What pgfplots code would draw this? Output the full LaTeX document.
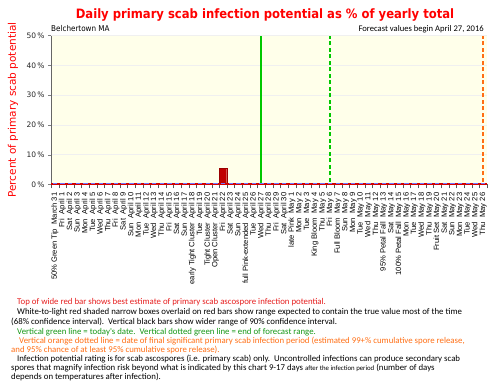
\documentclass[border=0pt]{standalone}
\usepackage{pgfplots}
\usepackage{pgfplotstable}
\pgfplotsset{compat=1.18}
\usepackage{fontspec}
\setmainfont{DejaVu Sans}
\newfontfamily\carl{Carlito}
\newfontfamily\ars{Liberation Sans}
\newfontfamily\dvc{DejaVu Sans Condensed}
\definecolor{bg}{RGB}{255,255,234}
\definecolor{vgreen}{RGB}{0,200,0}
\definecolor{vorange}{RGB}{255,110,20}
\definecolor{barred}{RGB}{192,0,0}
\definecolor{zred}{RGB}{210,0,0}
\definecolor{ngreen}{RGB}{20,150,20}
\definecolor{nred}{RGB}{230,30,30}
\newcommand\lb[2]{#1\hspace{0.6em}#2}
\pgfplotstableread{
x y b
0 0 0.35
1 0 0.35
2 0 0.35
3 0 0.35
4 0 0.35
5 0 0.35
6 0 0.35
7 0 0.35
8 0 0.35
9 0 0.35
10 0 0.35
11 0 0.35
12 0 0.35
13 0 0.35
14 0 0.35
15 0 0.35
16 0 0.35
17 0 0.35
18 0 0.35
19 0 0.35
20 0 0.35
21 0 0.35
22 5.4 0.35
23 0 0.35
24 0 0.35
25 0 0.35
26 0 0.35
27 0 0.35
28 0 0.35
29 0 0.35
30 0 0.35
31 0 0.35
32 0 0.35
33 0 0.35
34 0 0.35
35 0 0.35
36 0 0.35
37 0 0.35
38 0 0.35
39 0 0.35
40 0 0.35
41 0 0.35
42 0 0.35
43 0 0.35
44 0 0.35
45 0 0.35
46 0 0.35
47 0 0.35
48 0 0.35
49 0 0.35
50 0 0.35
51 0 0.35
52 0 0.35
53 0 0.35
54 0 0.35
55 0 0.35
56 0 0.35
}\scab
\begin{document}
\begin{tikzpicture}
\useasboundingbox (0,0) rectangle (504pt,-387pt);
\begin{axis}[
  at={(51pt,-184.5pt)}, anchor=south west,
  width=436pt, height=149pt, scale only axis,
  xmin=-0.5, xmax=56.5, ymin=0, ymax=50,
  axis background/.style={fill=bg},
  axis x line*=bottom, axis y line*=left,
  x axis line style={draw=none},
  y axis line style={draw=gray!80!black, line width=0.6pt},
  xtick={0,...,56},
  major x tick style={draw=none},
  minor xtick={-0.5,0.5,...,56.5},
  minor x tick style={draw=gray!70!black},
  minor tick length=4pt,
  tick align=outside,
  ytick={0,10,20,30,40,50},
  major tick length=3pt,
  ymajorgrids, grid style={draw=gray!12, line width=0.8pt},
  yticklabel={\pgfmathprintnumber{\tick}\,\%},
  /pgf/number format/assume math mode=true,
  yticklabel style={font=\fontsize{7.5}{9}\selectfont, text=black!85},
  xticklabel style={rotate=90, anchor=east, font=\ars\fontsize{7.6}{8}\selectfont, inner sep=1pt, xshift=-4pt},
  xticklabels={
    \lb{50\% Green Tip}{March 31},\lb{Fri}{April 1},\lb{Sat}{April 2},\lb{Sun}{April 3},\lb{Mon}{April 4},\lb{Tue}{April 5},\lb{Wed}{April 6},\lb{Thu}{April 7},\lb{Fri}{April 8},\lb{Sat}{April 9},
    \lb{Sun}{April 10},\lb{Mon}{April 11},\lb{Tue}{April 12},\lb{Wed}{April 13},\lb{Thu}{April 14},\lb{Fri}{April 15},\lb{Sat}{April 16},\lb{Sun}{April 17},\lb{early Tight Cluster}{April 18},\lb{Tue}{April 19},
    \lb{Tight Cluster}{April 20},\lb{Open Cluster}{April 21},\lb{Fri}{April 22},\lb{Sat}{April 23},\lb{Sun}{April 24},\lb{full Pink-extended}{April 25},\lb{Tue}{April 26},\lb{Wed}{April 27},\lb{Thu}{April 28},\lb{Fri}{April 29},
    \lb{Sat}{April 30},\lb{late Pink}{May 1},\lb{Mon}{May 2},\lb{Tue}{May 3},\lb{King Bloom}{May 4},\lb{Thu}{May 5},\lb{Fri}{May 6},\lb{Full Bloom}{May 7},\lb{Sun}{May 8},\lb{Mon}{May 9},
    \lb{Tue}{May 10},\lb{Wed}{May 11},\lb{Thu}{May 12},\lb{95\% Petal Fall}{May 13},\lb{Sat}{May 14},\lb{100\% Petal Fall}{May 15},\lb{Mon}{May 16},\lb{Tue}{May 17},\lb{Wed}{May 18},\lb{Thu}{May 19},
    \lb{Fruit Set}{May 20},\lb{Sat}{May 21},\lb{Sun}{May 22},\lb{Mon}{May 23},\lb{Tue}{May 24},\lb{Wed}{May 25},\lb{Thu}{May 26}},
]
\addplot[ybar, bar width=0.95, fill=barred, draw=barred!80!black] table[x=x,y=y] {\scab};
\addplot[only marks, mark=-, mark size=2.2pt, mark options={draw=blue!55, line width=0.7pt}] table[x=x,y=b] {\scab};
\addplot[color=zred, line width=2pt, sharp plot] coordinates {(-0.5,0) (56.5,0)};
\addplot[color=vgreen, line width=1.8pt, sharp plot, solid, no marks] coordinates {(27,0.5) (27,50)};
\addplot[color=vgreen, line width=1.6pt, sharp plot, no marks, dash pattern=on 4pt off 2.5pt] coordinates {(36,1) (36,50)};
\addplot[color=vorange, line width=1.6pt, sharp plot, no marks, dash pattern=on 4pt off 2.5pt] coordinates {(56,1) (56,50)};
\end{axis}
% titles
\node[text=red, font=\dvc\bfseries\fontsize{12.9}{14}\selectfont] at (265pt,-15pt) {Daily primary scab infection potential as \% of yearly total};
\node[anchor=west, font=\dvc\fontsize{8}{9}\selectfont, inner sep=0pt] at (51pt,-29pt) {Belchertown MA};
\node[anchor=east, font=\carl\fontsize{8.6}{9}\selectfont, inner sep=0pt] at (484pt,-29pt) {Forecast values begin April 27, 2016};
\node[rotate=90, text=red, font=\fontsize{10.5}{12}\selectfont, inner sep=0pt] at (13pt,-110pt) {Percent of primary scab potential};
% notes
\begin{scope}[every node/.style={anchor=west, inner sep=0pt, font=\carl\fontsize{8.8}{9}\selectfont}]
\node[text=nred] at (17pt,-302pt) {Top of wide red bar shows best estimate of primary scab ascospore infection potential.};
\node at (17pt,-312pt) {White-to-light red shaded narrow boxes overlaid on red bars show range expected to contain the true value most of the time};
\node at (11pt,-322pt) {(68\% confidence interval).\ \ Vertical black bars show wider range of 90\% confidence interval.};
\node[text=ngreen] at (17pt,-332pt) {Vertical green line = today's date.\ \ Vertical dotted green line = end of forecast range.};
\node[text=vorange] at (19pt,-341pt) {Vertical orange dotted line = date of final significant primary scab infection period (estimated 99+\% cumulative spore release,};
\node[text=vorange] at (11pt,-350pt) {and 95\% chance of at least 95\% cumulative spore release).};
\node at (17pt,-359pt) {Infection potential rating is for scab ascospores (i.e. primary scab) only.\ \ Uncontrolled infections can produce secondary scab};
\node at (11pt,-368pt) {spores that magnify infection risk beyond what is indicated by this chart 9-17 days {\fontsize{6.8}{8}\selectfont after the infection period} (number of days};
\node at (11pt,-377pt) {depends on temperatures after infection).};
\end{scope}
\end{tikzpicture}
\end{document}
